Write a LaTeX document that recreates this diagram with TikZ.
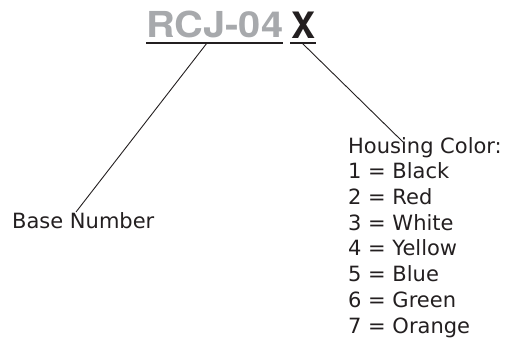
\documentclass[tikz,border=0pt]{standalone}
\usepackage{fontspec}
\setmainfont{DejaVu Sans}
\newfontfamily\titlefont{TeX Gyre Heros}
\definecolor{ink}{HTML}{231F20}
\definecolor{titlegray}{HTML}{A7A9AC}
\begin{document}
\begin{tikzpicture}[x=1pt,y=-1pt,
  lbl/.style={anchor=base west, inner sep=0pt, text=ink, align=left,
    font=\fontsize{21}{25.7}\selectfont},
  ttl/.style={anchor=south west, inner sep=0pt},
  rule/.style={draw=ink, line width=1.3pt},
  leader/.style={draw=ink, line width=0.9pt}]
\useasboundingbox (0,0) rectangle (508,339);
% title
\node[ttl, text=titlegray] (rcj) at (146,38.5) {\resizebox{137pt}{26.5pt}{\titlefont\bfseries RCJ-04}};
\node[ttl, text=ink] (xx) at (291,38.5) {\resizebox{24pt}{26.5pt}{\titlefont\bfseries X}};
\coordinate (u1a) at (146,43);
\coordinate (u1b) at (283,43);
\coordinate (u2a) at (290,43);
\coordinate (u2b) at (316,43);
\draw[rule] (u1a) -- (u1b);
\draw[rule] (u2a) -- (u2b);
% labels
\node[lbl] (base) at (12,228) {Base Number};
\node[lbl] (house) at (348,333) {Housing Color:\\1 = Black\\2 = Red\\3 = White\\4 = Yellow\\5 = Blue\\6 = Green\\7 = Orange};
% leaders
\coordinate (t1) at (207,43);
\coordinate (e1) at (76,212);
\coordinate (t2) at (302,43);
\coordinate (e2) at (403,142);
\draw[leader] (t1) -- (e1);
\draw[leader] (t2) -- (e2);
\end{tikzpicture}
\end{document}
